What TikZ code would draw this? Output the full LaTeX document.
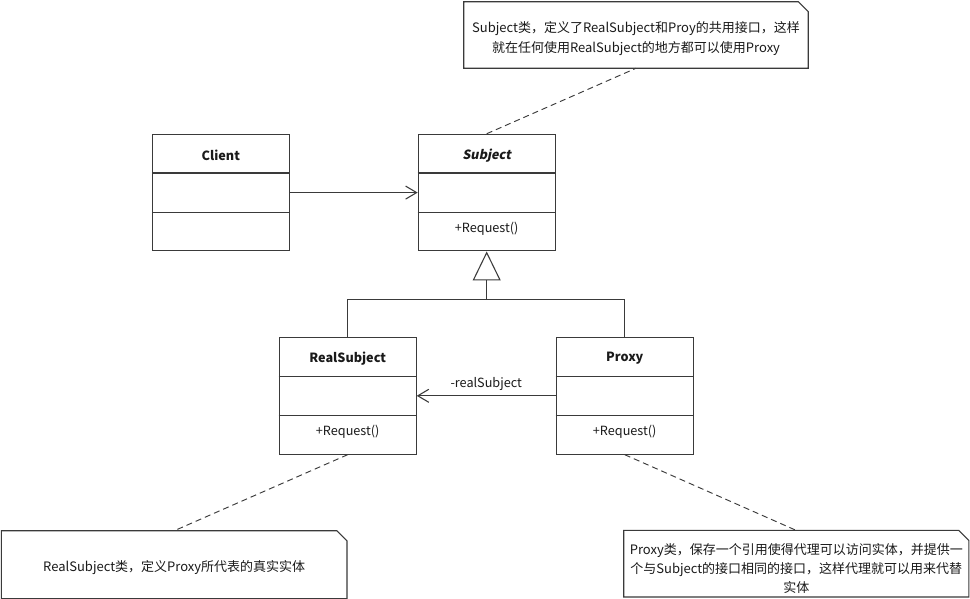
\documentclass[tikz,border=0pt]{standalone}
\usepackage{fontspec}
\setmainfont{Noto Sans CJK SC}
\newfontfamily\slantfont{Noto Sans CJK SC}[FakeSlant=0.2]
\usetikzlibrary{calc,arrows.meta}

\definecolor{linec}{HTML}{3A3A3A}
\definecolor{textc}{HTML}{1A1A1A}

\tikzset{
  classbox/.style={draw=linec, line width=0.8pt, fill=white, inner sep=0pt,
    minimum width=102.75pt, minimum height=87.5pt},
  classname/.style={font=\fontsize{9.5pt}{11pt}\selectfont\bfseries, text=textc},
  member/.style={font=\fontsize{9.5pt}{11pt}\selectfont, text=textc},
  rule/.style={draw=linec, line width=0.8pt},
  assoc/.style={rule, -{Straight Barb[length=8.25pt,width=9.75pt,line width=0.8pt]}},
  inherit/.style={rule, -{Triangle[open,length=21.75pt,width=21pt,line width=0.8pt,fill=white]}},
  noteframe/.style={inner sep=0pt},
  notetext/.style={inner sep=0pt, align=center, text=textc,
    font=\fontsize{9.75pt}{15pt}\selectfont},
  noteline/.style={draw=linec, line width=0.8pt},
  anchorline/.style={draw=linec, line width=0.7pt, dash pattern=on 4.5pt off 3pt},
}

\begin{document}
\begin{tikzpicture}[x=0.75pt, y=-0.75pt]
\useasboundingbox (0,0) rectangle (970,599);
\fill[white] (0,0) rectangle (970,599);

% class boxes
\node[classbox] (client) at (220.8,192.6) {};
\node[classbox] (subject) at (486.7,192.6) {};
\node[classbox] (realsubject) at (347.7,395.8) {};
\node[classbox] (proxy) at (624.7,395.8) {};

% compartment dividers
\foreach \c in {client,subject,realsubject,proxy} {
  \draw[rule] ($(\c.north west)!1/3!(\c.south west)$) -- ($(\c.north east)!1/3!(\c.south east)$);
  \draw[rule] ($(\c.north west)!2/3!(\c.south west)$) -- ($(\c.north east)!2/3!(\c.south east)$);
}

% class names (top compartment) and operations (bottom compartment)
\node[classname] (clientname) at ($(client.north)!1/6!(client.south)+(0,2)$) {Client};
\node[classname] (subjectname) at ($(subject.north)!1/6!(subject.south)+(0,2)$) {\slantfont\bfseries Subject};
\node[classname] (realsubjectname) at ($(realsubject.north)!1/6!(realsubject.south)+(0,2)$) {RealSubject};
\node[classname] (proxyname) at ($(proxy.north)!1/6!(proxy.south)+(0,2)$) {Proxy};
\node[member] (subjectop) at ($(subject.north)!5/6!(subject.south)+(0,-3)$) {+Request()};
\node[member] (realsubjectop) at ($(realsubject.north)!5/6!(realsubject.south)+(0,-3)$) {+Request()};
\node[member] (proxyop) at ($(proxy.north)!5/6!(proxy.south)+(0,-3)$) {+Request()};

% associations
\draw[assoc] (client.east) -- (subject.west);
\draw[assoc] (proxy.west) -- node[member, above=0pt] (rolelabel) {-realSubject} (realsubject.east);

% generalization
\coordinate (joint) at (486.7,299.3);
\draw[rule] (realsubject.north) |- (joint) -| (proxy.north);
\draw[inherit] (joint) -- (subject.south);

% note frames
\node[noteframe, minimum width=258pt, minimum height=49.5pt] (n1) at (636,35) {};
\node[noteframe, minimum width=258.75pt, minimum height=50.5pt] (n2) at (174.2,564.7) {};
\node[noteframe, minimum width=258.4pt, minimum height=49.5pt] (n3) at (796.3,563.7) {};
\foreach \n in {n1,n2,n3} {
  \draw[noteline] (\n.north west) -- ($(\n.north east)+(-10,0)$) -- ($(\n.north east)+(0,10)$)
    -- (\n.south east) -- (\n.south west) -- cycle;
}

% note texts
\node[notetext] (n1text) at ($(n1)+(0,4)$)
  {Subject类，定义了RealSubject和Proy的共用接口，这样\\就在任何使用RealSubject的地方都可以使用Proxy};
\node[notetext] (n2text) at ($(n2)+(0,3)$)
  {RealSubject类，定义Proxy所代表的真实实体};
\node[notetext, font=\fontsize{9.75pt}{14.25pt}\selectfont] (n3text) at ($(n3)+(0,4.5)$)
  {Proxy类，保存一个引用使得代理可以访问实体，并提供一\\个与Subject的接口相同的接口，这样代理就可以用来代替\\实体};

% note anchors
\draw[anchorline] (subject.north) -- (n1.south);
\draw[anchorline] (realsubject.south) -- (n2.north);
\draw[anchorline] (proxy.south) -- (n3.north);
\end{tikzpicture}
\end{document}
